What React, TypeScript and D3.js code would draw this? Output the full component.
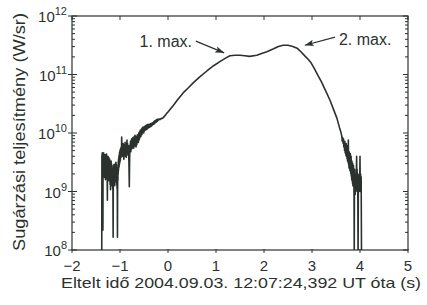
import * as d3 from "d3";
import { useEffect, useRef } from "react";

// tengelyek
const xTicks = [-2, -1, 0, 1, 2, 3, 4, 5];
const xTickLabels = ["−2", "−1", "0", "1", "2", "3", "4", "5"];
const yExponents = [8, 9, 10, 11, 12];
const yTitle = "Sugárzási teljesítmény (W/sr)";
const xTitle = "Eltelt idő 2004.09.03. 12:07:24,392 UT óta (s)";

// maximumok feliratai: szöveg helye, nyíl kezdete és hegye [t, log10 P]
const peakLabels = ["1. max.", "2. max."];
const peakLabelPos = [[0.5, 11.47], [3.56, 11.5]];
const peakArrowFrom = [[0.58, 11.57], [3.48, 11.64]];
const peakArrowTo = [[1.17, 11.37], [2.85, 11.5]];

// mért görbe: [idő (s), log10 teljesítmény (W/sr)]
const onset = [
  [-1.38, 7.9], [-1.377, 9.62], [-1.374, 9.35], [-1.371, 9.66], [-1.368, 9.28], [-1.365, 9.58],
  [-1.362, 9.22], [-1.359, 9.6], [-1.356, 8.34], [-1.353, 9.5], [-1.35, 9.3], [-1.347, 9.64],
  [-1.344, 9.36], [-1.341, 9.66], [-1.338, 9.32], [-1.335, 9.58], [-1.332, 9.26], [-1.329, 9.62],
  [-1.326, 9.3], [-1.323, 9.55], [-1.32, 9.24], [-1.317, 9.6], [-1.314, 9.34], [-1.311, 9.63],
  [-1.308, 9.28], [-1.305, 9.52], [-1.302, 9.2], [-1.299, 9.58], [-1.296, 9.3], [-1.293, 9.62],
  [-1.29, 9.25], [-1.287, 9.56], [-1.284, 9.35], [-1.281, 9.64], [-1.278, 9.3], [-1.275, 9.58],
  [-1.272, 9.22], [-1.269, 9.5], [-1.266, 9.15], [-1.263, 8.85], [-1.26, 9.35], [-1.257, 9.55],
  [-1.254, 9.28], [-1.251, 9.6], [-1.248, 9.32], [-1.245, 9.56], [-1.242, 9.2], [-1.239, 9.52],
  [-1.236, 9.3], [-1.233, 9.58], [-1.23, 9.24], [-1.227, 9.5], [-1.224, 9.18], [-1.221, 9.48],
  [-1.218, 9.25], [-1.215, 9.55], [-1.212, 9.2], [-1.209, 9.45], [-1.206, 9.12], [-1.203, 9.4],
  [-1.2, 9.2], [-1.197, 9.03], [-1.194, 9.38], [-1.191, 9.5], [-1.188, 9.26], [-1.185, 9.52],
  [-1.182, 9.22], [-1.179, 9.48], [-1.176, 9.15], [-1.173, 9.42], [-1.17, 9.18], [-1.167, 9.45],
  [-1.164, 9.1], [-1.161, 9.38], [-1.158, 9.15], [-1.155, 9.4], [-1.152, 9.05], [-1.149, 9.3],
  [-1.146, 8.8], [-1.143, 8.22], [-1.14, 9.1], [-1.137, 9.35], [-1.134, 9.18], [-1.131, 9.44],
  [-1.128, 9.2], [-1.125, 9.46], [-1.122, 9.15], [-1.119, 9.4], [-1.116, 9.22], [-1.113, 9.45],
  [-1.11, 9.1], [-1.107, 9.38], [-1.104, 9.18], [-1.101, 9.42], [-1.098, 9.22], [-1.095, 9.48],
  [-1.092, 9.2], [-1.089, 9.44], [-1.086, 9.25], [-1.083, 9.5], [-1.08, 9.22], [-1.077, 9.46],
  [-1.074, 9.15], [-1.071, 9.4], [-1.068, 9.12], [-1.065, 9.35], [-1.062, 9.05], [-1.059, 9.3],
  [-1.056, 8.9], [-1.053, 8.22], [-1.05, 9.0], [-1.047, 9.3], [-1.044, 9.18], [-1.041, 9.45],
  [-1.038, 9.3], [-1.035, 9.52], [-1.032, 9.35], [-1.029, 9.56], [-1.026, 9.4], [-1.023, 9.6],
  [-1.02, 9.42], [-1.017, 9.62], [-1.014, 9.45], [-1.011, 9.66], [-1.008, 9.48], [-1.005, 9.68],
  [-1.002, 9.5], [-0.999, 9.7], [-0.996, 9.52], [-0.993, 9.72], [-0.99, 9.55], [-0.985, 9.74],
  [-0.98, 9.58], [-0.975, 9.76], [-0.97, 9.62], [-0.965, 9.93], [-0.958, 9.66], [-0.954, 9.8],
  [-0.95, 9.74], [-0.946, 9.6], [-0.942, 9.76], [-0.938, 9.64], [-0.934, 9.82], [-0.93, 9.66],
  [-0.926, 9.74], [-0.922, 9.58], [-0.918, 9.55], [-0.914, 9.8], [-0.91, 9.7], [-0.906, 9.62],
  [-0.902, 9.76], [-0.898, 9.66], [-0.894, 9.84], [-0.89, 9.64], [-0.886, 9.72], [-0.882, 9.6],
  [-0.878, 9.78], [-0.874, 9.66], [-0.87, 9.58], [-0.866, 9.76], [-0.862, 9.7], [-0.858, 9.82],
  [-0.854, 9.88], [-0.85, 9.66], [-0.846, 9.7], [-0.842, 9.82], [-0.838, 9.74], [-0.834, 9.62],
  [-0.83, 9.76], [-0.826, 9.66], [-0.822, 9.78], [-0.818, 9.6], [-0.814, 9.5], [-0.81, 9.3],
  [-0.806, 9.08], [-0.802, 9.4], [-0.798, 9.6], [-0.794, 9.72], [-0.79, 9.8], [-0.786, 9.7],
  [-0.782, 9.86], [-0.778, 9.72], [-0.774, 9.68], [-0.77, 9.84], [-0.766, 9.88], [-0.762, 9.72],
  [-0.758, 9.78], [-0.754, 9.9], [-0.75, 9.8], [-0.746, 9.74], [-0.742, 9.86], [-0.738, 9.76],
  [-0.734, 9.92], [-0.73, 9.8], [-0.726, 9.76], [-0.722, 9.9], [-0.718, 9.84], [-0.714, 9.74],
  [-0.71, 9.82], [-0.706, 9.94], [-0.702, 9.86], [-0.698, 9.78], [-0.694, 9.9], [-0.69, 9.8],
  [-0.686, 9.96], [-0.682, 9.84], [-0.678, 9.78], [-0.674, 9.92], [-0.67, 9.86], [-0.666, 9.76],
  [-0.662, 9.84], [-0.658, 9.94], [-0.654, 9.86], [-0.65, 9.8], [-0.646, 9.9], [-0.642, 9.84],
  [-0.638, 9.97], [-0.634, 9.86], [-0.63, 9.84], [-0.626, 9.96], [-0.622, 9.92], [-0.618, 9.84],
  [-0.614, 9.9], [-0.61, 10.0], [-0.606, 9.92], [-0.602, 9.88], [-0.598, 9.96], [-0.594, 9.9],
  [-0.59, 10.03], [-0.585, 9.92], [-0.58, 9.96], [-0.575, 10.05], [-0.57, 9.97], [-0.565, 9.94],
  [-0.56, 10.04], [-0.555, 9.98], [-0.55, 10.07], [-0.545, 9.97], [-0.54, 10.02], [-0.535, 10.09],
  [-0.53, 10.0], [-0.525, 10.04], [-0.52, 10.1], [-0.515, 10.02], [-0.51, 10.06], [-0.505, 10.0],
  [-0.5, 10.08], [-0.495, 10.03], [-0.49, 10.11], [-0.485, 10.04], [-0.48, 10.07], [-0.475, 10.12],
  [-0.47, 10.05], [-0.465, 10.1], [-0.46, 10.06], [-0.455, 10.13], [-0.45, 10.07], [-0.445, 10.11],
  [-0.44, 10.06], [-0.435, 10.14], [-0.43, 10.09], [-0.425, 10.12], [-0.42, 10.08], [-0.415, 10.15],
  [-0.41, 10.1], [-0.405, 10.13], [-0.4, 10.09], [-0.39, 10.14], [-0.38, 10.1], [-0.37, 10.16],
  [-0.36, 10.11], [-0.35, 10.16], [-0.34, 10.12], [-0.33, 10.17], [-0.32, 10.14], [-0.31, 10.18],
  [-0.3, 10.15], [-0.29, 10.2], [-0.28, 10.16], [-0.27, 10.21], [-0.26, 10.18], [-0.25, 10.22],
  [-0.24, 10.19], [-0.23, 10.23], [-0.22, 10.2], [-0.21, 10.24], [-0.2, 10.22],
];

const body = [
  [-0.18, 10.24], [-0.16, 10.23], [-0.14, 10.25], [-0.12, 10.25], [-0.1, 10.26], [-0.08, 10.28],
  [-0.06, 10.3], [-0.04, 10.32], [-0.02, 10.34], [0, 10.36], [0.05, 10.41], [0.11, 10.47],
  [0.2, 10.57], [0.32, 10.69], [0.42, 10.77], [0.53, 10.86], [0.65, 10.95], [0.81, 11.06],
  [0.95, 11.15], [1.08, 11.22], [1.2, 11.28], [1.29, 11.32], [1.4, 11.33], [1.5, 11.33],
  [1.6, 11.32], [1.7, 11.31], [1.85, 11.33], [1.95, 11.36], [2.06, 11.39], [2.2, 11.44],
  [2.3, 11.48], [2.4, 11.5], [2.5, 11.5], [2.6, 11.48], [2.69, 11.45], [2.78, 11.38],
  [2.86, 11.31], [2.92, 11.26], [2.98, 11.2], [3.05, 11.1], [3.12, 10.99], [3.2, 10.87],
  [3.28, 10.73], [3.375, 10.56], [3.45, 10.4], [3.52, 10.25], [3.57, 10.1], [3.6, 10.02],
];

const tail = [
  [3.62, 9.95], [3.63, 9.86], [3.64, 9.92], [3.648, 9.82], [3.655, 9.9], [3.663, 9.76],
  [3.67, 9.84], [3.678, 9.7], [3.685, 9.86], [3.692, 9.66], [3.7, 9.8], [3.706, 9.62],
  [3.712, 9.82], [3.718, 9.6], [3.724, 9.74], [3.73, 9.56], [3.735, 9.78], [3.74, 9.52],
  [3.745, 9.66], [3.751, 9.5], [3.757, 9.88], [3.762, 9.46], [3.766, 9.62], [3.771, 9.4],
  [3.775, 9.68], [3.779, 9.42], [3.783, 9.6], [3.79, 9.36], [3.794, 9.58], [3.798, 9.65],
  [3.802, 9.34], [3.806, 9.5], [3.81, 9.3], [3.815, 9.6], [3.819, 9.26], [3.823, 9.44],
  [3.828, 9.2], [3.832, 9.52], [3.836, 9.18], [3.84, 9.4], [3.844, 9.14], [3.848, 9.48],
  [3.852, 9.1], [3.856, 9.36], [3.86, 9.12], [3.864, 9.45], [3.868, 9.08], [3.872, 9.3],
  [3.876, 8.9], [3.88, 7.9], [3.884, 9.0], [3.888, 9.38], [3.892, 9.02], [3.896, 9.25],
  [3.9, 8.95], [3.905, 9.3], [3.91, 9.0], [3.915, 9.2], [3.92, 9.05], [3.925, 9.35],
  [3.93, 9.6], [3.935, 9.1], [3.94, 9.38], [3.945, 9.0], [3.95, 9.3], [3.955, 8.9],
  [3.96, 7.9], [3.965, 8.95], [3.97, 9.2], [3.978, 9.0], [3.985, 9.3], [3.992, 9.05],
  [4.0, 9.6], [4.006, 9.0], [4.012, 9.3], [4.018, 9.05], [4.024, 9.25], [4.032, 7.9],
];

const ChartDraw = () => {
  const chartRef = useRef<SVGSVGElement | null>(null);

  const width = 427;
  const height = 305;
  const margin = { top: 16, bottom: 55, left: 72, right: 19 };
  const boundsWidth = width - margin.left - margin.right;
  const boundsHeight = height - margin.top - margin.bottom;

  useEffect(() => {
    const svg = d3.select(chartRef.current);
    svg.selectAll("*").remove();

    const ink = "#2b322e";
    const font = "'Liberation Sans', Arial, Helvetica, sans-serif";

    const scaleX = d3.scaleLinear().domain([-2, 5]).range([margin.left, margin.left + boundsWidth]);
    const scaleY = d3.scaleLog().domain([1e8, 1e12]).range([margin.top + boundsHeight, margin.top]);
    const yAt = (e: number) => scaleY(Math.pow(10, e));

    const defs = svg.append("defs");
    defs.append("clipPath").attr("id", "plotClip")
      .append("rect")
      .attr("x", margin.left).attr("y", margin.top)
      .attr("width", boundsWidth).attr("height", boundsHeight);
    defs.append("marker")
      .attr("id", "arrowHead")
      .attr("markerUnits", "userSpaceOnUse")
      .attr("markerWidth", 10).attr("markerHeight", 8)
      .attr("refX", 9).attr("refY", 4)
      .attr("orient", "auto")
      .append("path")
      .attr("d", "M0,0.8 L9,4 L0,7.2 L2,4 Z")
      .style("fill", ink);

    // görbe
    const line = d3.line<number[]>()
      .x(d => scaleX(d[0]))
      .y(d => yAt(d[1]));
    const curve = [...onset, ...body, ...tail];
    svg.append("path")
      .attr("clip-path", "url(#plotClip)")
      .attr("d", line(curve))
      .style("fill", "none")
      .style("stroke", ink)
      .style("stroke-width", 1.6)
      .style("stroke-linejoin", "round");

    // keret
    const x0 = margin.left, x1 = margin.left + boundsWidth;
    const y0 = margin.top, y1 = margin.top + boundsHeight;
    svg.append("rect")
      .attr("x", x0).attr("y", y0)
      .attr("width", boundsWidth).attr("height", boundsHeight)
      .style("fill", "none").style("stroke", ink).style("stroke-width", 1.2);

    const ticks = svg.append("g").style("stroke", ink).style("stroke-width", 1);

    // x tengely jelölők
    xTicks.forEach(t => {
      const x = scaleX(t);
      ticks.append("line").attr("x1", x).attr("x2", x).attr("y1", y1 - 1).attr("y2", y1 + 3);
      ticks.append("line").attr("x1", x).attr("x2", x).attr("y1", y0).attr("y2", y0 + 4);
    });

    // y tengely jelölők (log, kis jelölők is)
    yExponents.forEach(e => {
      const y = yAt(e);
      ticks.append("line").attr("x1", x0 - 4).attr("x2", x0 + 5).attr("y1", y).attr("y2", y);
      ticks.append("line").attr("x1", x1 - 5).attr("x2", x1).attr("y1", y).attr("y2", y);
      if (e < 12) {
        d3.range(2, 10).forEach(m => {
          const ym = scaleY(m * Math.pow(10, e));
          ticks.append("line").attr("x1", x0).attr("x2", x0 + 3).attr("y1", ym).attr("y2", ym);
          ticks.append("line").attr("x1", x1 - 3).attr("x2", x1).attr("y1", ym).attr("y2", ym);
        });
      }
    });

    // x feliratok
    svg.append("g").selectAll("text")
      .data(xTicks)
      .enter()
      .append("text")
      .attr("x", d => scaleX(d))
      .attr("y", 271)
      .attr("text-anchor", "middle")
      .style("font-family", font)
      .style("font-size", "15px")
      .style("fill", ink)
      .text((d, i) => xTickLabels[i]);

    // y feliratok 10^n
    yExponents.forEach(e => {
      const t = svg.append("text")
        .attr("x", 67)
        .attr("y", yAt(e) + 6)
        .attr("text-anchor", "end")
        .style("font-family", font)
        .style("fill", ink);
      t.append("tspan").style("font-size", "15px").text("10");
      t.append("tspan").attr("dy", -7).style("font-size", "11px").text(String(e));
    });

    // tengelycímek
    svg.append("text")
      .attr("transform", `translate(25, ${margin.top + boundsHeight / 2 - 1}) rotate(-90)`)
      .attr("text-anchor", "middle")
      .attr("textLength", 238)
      .attr("lengthAdjust", "spacingAndGlyphs")
      .style("font-family", font)
      .style("font-size", "16px")
      .style("fill", ink)
      .text(yTitle);

    svg.append("text")
      .attr("x", 241)
      .attr("y", 288)
      .attr("text-anchor", "middle")
      .attr("textLength", 360)
      .attr("lengthAdjust", "spacingAndGlyphs")
      .style("font-family", font)
      .style("font-size", "15px")
      .style("fill", ink)
      .text(xTitle);

    // maximumok jelölése
    peakLabels.forEach((label, i) => {
      svg.append("text")
        .attr("x", scaleX(peakLabelPos[i][0]))
        .attr("y", yAt(peakLabelPos[i][1]))
        .attr("text-anchor", i === 0 ? "end" : "start")
        .style("font-family", font)
        .style("font-size", "16px")
        .style("fill", ink)
        .text(label);
      svg.append("line")
        .attr("x1", scaleX(peakArrowFrom[i][0]))
        .attr("y1", yAt(peakArrowFrom[i][1]))
        .attr("x2", scaleX(peakArrowTo[i][0]))
        .attr("y2", yAt(peakArrowTo[i][1]))
        .attr("marker-end", "url(#arrowHead)")
        .style("stroke", ink)
        .style("stroke-width", 1.2);
    });
  }, []);

  return (
    <svg ref={chartRef} width={width} height={height} style={{
      position: "absolute",
      left: 0,
      top: 0,
      display: "block",
      background: "#fff"
    }}></svg>
  );
};

export default function App() {
  return <ChartDraw />;
}
